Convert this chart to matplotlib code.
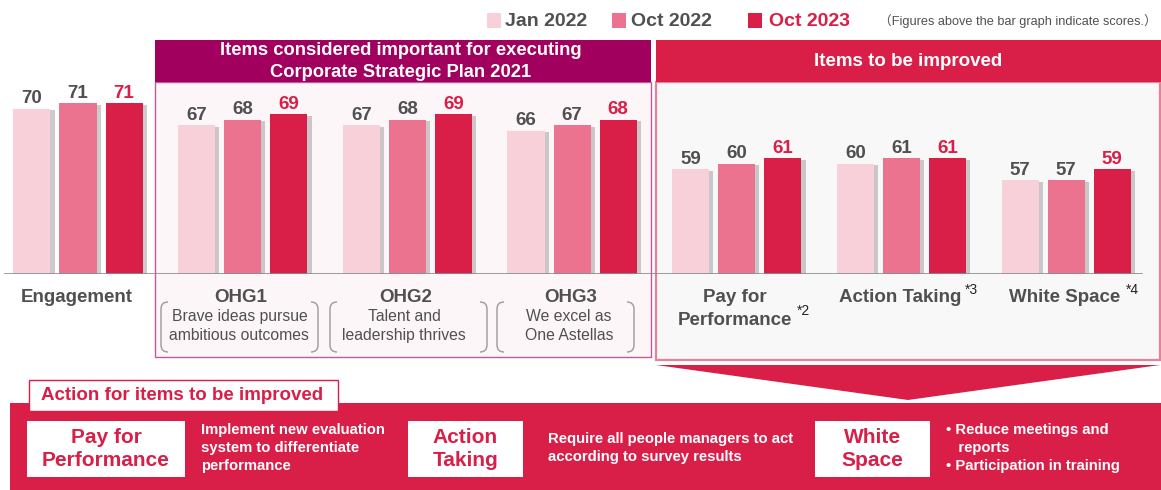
import matplotlib.pyplot as plt
import matplotlib.patheffects as pe
from matplotlib.patches import Rectangle, Polygon, PathPatch
from matplotlib.path import Path
from matplotlib.transforms import blended_transform_factory

plt.rcParams['font.family'] = ['Liberation Sans', 'DejaVu Sans']

# data
categories = ['Engagement', 'OHG1', 'OHG2', 'OHG3',
              'Pay for\nPerformance', 'Action Taking', 'White Space']
jan2022 = [70, 67, 67, 66, 59, 60, 57]
oct2022 = [71, 68, 68, 67, 60, 61, 57]
oct2023 = [71, 69, 69, 68, 61, 61, 59]
series_names = ['Jan 2022', 'Oct 2022', 'Oct 2023']
subtitles = ['', 'Brave ideas pursue\nambitious outcomes', 'Talent and\nleadership thrives',
             'We excel as\nOne Astellas', '', '', '']
notes = ['', '', '', '', '*2', '*3', '*4']

c_light = '#F8D0DA'
c_mid = '#EC7390'
c_dark = '#D91E48'
c_purple = '#A2005E'
c_gray = '#505050'
colors = [c_light, c_mid, c_dark]

fig = plt.figure(figsize=(11.61, 4.90), dpi=100)
bg = fig.add_axes([0, 0, 1, 1], zorder=0)
bg.set_xlim(0, 1161)
bg.set_ylim(490, 0)
bg.axis('off')

# bar axes: baseline at 274 px, 5.5 px per point
ax = fig.add_axes([0, (490 - 274) / 490, 1, 274 / 490], zorder=1)
ax.patch.set_alpha(0)
ax.set_xlim(-78 / 164.7, (1161 - 78) / 164.7)
ax.set_ylim(40, 40 + 274 / 5.5)
ax.axis('off')

# section boxes
bg.add_patch(Rectangle((155, 82), 496, 275, facecolor='#FDF6F8', edgecolor='#C4589C', lw=1))
bg.add_patch(Rectangle((155, 40), 496, 42, facecolor=c_purple, edgecolor='none'))
bg.text(401, 61.5, 'Items considered important for executing\nCorporate Strategic Plan 2021',
        ha='center', va='center', color='white', fontsize=13.2, fontweight='bold', linespacing=1.4)
bg.add_patch(Rectangle((656, 82), 504, 278, facecolor='#F8F8F8', edgecolor='#E9809A', lw=1.6))
bg.add_patch(Rectangle((656, 40), 505, 42, facecolor=c_dark, edgecolor='none'))
bg.text(908, 61, 'Items to be improved', ha='center', va='center', color='white',
        fontsize=13.5, fontweight='bold')

# legend
lx = [487, 612, 748]
tx = [505, 631, 769]
for i, name in enumerate(series_names):
    bg.add_patch(Rectangle((lx[i], 13), 14, 15, facecolor=colors[i], edgecolor='none'))
    bg.text(tx[i], 21, name, ha='left', va='center', fontsize=14, fontweight='bold',
            color=c_dark if i == 2 else c_gray)
bg.text(1157, 21, '（Figures above the bar graph indicate scores.）', ha='right', va='center',
        fontsize=9.2, color=c_gray, family=['Liberation Sans', 'Noto Sans CJK JP'])

# bars
x = range(len(categories))
off = 0.28
w = 0.225
shadow = [pe.SimplePatchShadow(offset=(3, -1), shadow_rgbFace='#808080', alpha=0.4), pe.Normal()]
for k, vals in enumerate([jan2022, oct2022, oct2023]):
    xs = [i + (k - 1) * off for i in x]
    bars = ax.bar(xs, vals, width=w, bottom=0, color=colors[k], zorder=2)
    for b in bars:
        b.set_path_effects(shadow)
    for xi, v in zip(xs, vals):
        ax.text(xi, v + 0.3, str(v), ha='center', va='bottom', fontsize=13.5, fontweight='bold',
                color=c_dark if k == 2 else c_gray)
ax.axhline(40.05, xmin=5 / 1161, xmax=1142 / 1161, color='#8C8C8C', lw=1.2, zorder=3)

# category labels
tr = blended_transform_factory(ax.transData, bg.transData)
for i, cat in enumerate(categories):
    bg.text(i - 0.01, 289, cat, transform=tr, ha='center', va='top', fontsize=13.5,
            fontweight='bold', color=c_gray, linespacing=1.45)
    if subtitles[i]:
        bg.text(i - 0.02, 326, subtitles[i], transform=tr, ha='center', va='center',
                fontsize=11.3, color=c_gray, linespacing=1.35)

# superscript notes
note_pos = [(0, 0), (0, 0), (0, 0), (0, 0), (803, 311), (971, 290), (1132, 290)]
for n, (px, py) in zip(notes, note_pos):
    if n:
        bg.text(px, py, n, ha='center', va='center', fontsize=10, color='#222222')


def bracket(xb, side, top=302, bot=352, r=7):
    verts = [(xb + side * r, top), (xb, top), (xb, top + r), (xb, bot - r),
             (xb, bot), (xb + side * r, bot)]
    codes = [Path.MOVETO, Path.CURVE3, Path.CURVE3, Path.LINETO, Path.CURVE3, Path.CURVE3]
    bg.add_patch(PathPatch(Path(verts, codes), facecolor='none', edgecolor='#9A9A9A', lw=1))


for left, right in [(161, 318), (330, 487), (497, 634)]:
    bracket(left, 1)
    bracket(right, -1)

# arrow
bg.add_patch(Polygon([(656, 365), (1160, 365), (908, 400)], closed=True,
                     facecolor=c_dark, edgecolor='none'))

# bottom action panel
bg.add_patch(Rectangle((10, 403), 1151, 87, facecolor=c_dark, edgecolor='none'))
bg.add_patch(Rectangle((29, 380), 309, 31, facecolor='white', edgecolor=c_dark, lw=1))
bg.text(41, 395.5, 'Action for items to be improved', ha='left', va='center',
        fontsize=13.5, fontweight='bold', color=c_dark)

boxes = [(27, 158, 'Pay for\nPerformance'), (408, 115, 'Action\nTaking'), (815, 115, 'White\nSpace')]
for bx, bw, label in boxes:
    bg.add_patch(Rectangle((bx, 421), bw, 56, facecolor='white', edgecolor='none'))
    bg.text(bx + bw / 2, 449, label, ha='center', va='center', fontsize=15,
            fontweight='bold', color=c_dark, linespacing=1.3)

desc = [(201, 'Implement new evaluation\nsystem to differentiate\nperformance'),
        (548, 'Require all people managers to act\naccording to survey results'),
        (946, '• Reduce meetings and\n   reports\n• Participation in training')]
for dx, t in desc:
    bg.text(dx, 448, t, ha='left', va='center', fontsize=10.7, fontweight='bold',
            color='white', linespacing=1.4)

fig.savefig('out.png', dpi=100)
